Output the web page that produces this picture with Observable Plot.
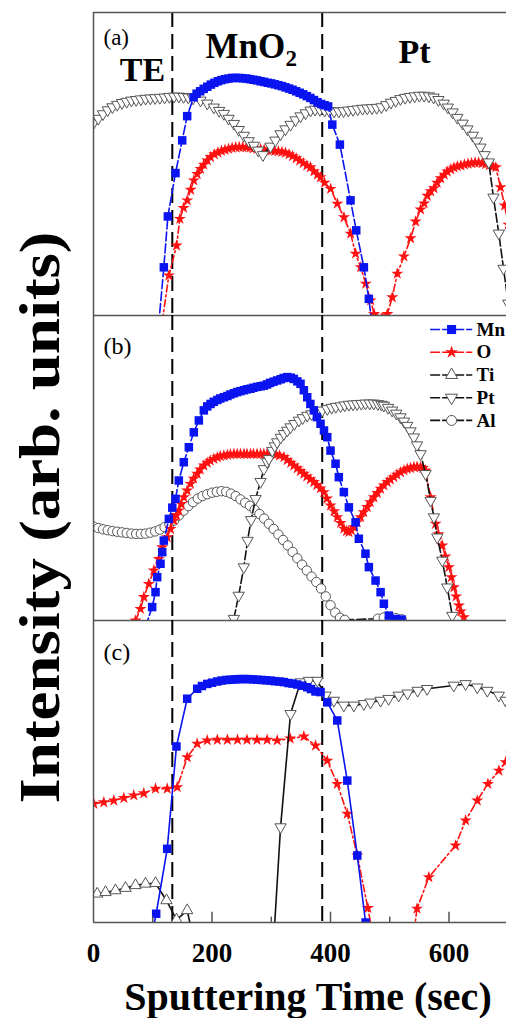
<!DOCTYPE html>
<html><head><meta charset="utf-8">
<script src="https://cdn.jsdelivr.net/npm/d3@7"></script>
<script src="https://cdn.jsdelivr.net/npm/@observablehq/plot@0.6"></script>
<style>
body{margin:0;background:#fff;}
#chart{width:506px;height:1018px;position:relative;overflow:hidden;background:#fff;}
#chart svg{display:block;overflow:visible;}
</style></head><body><div id="chart"></div>
<script>
// ---- data: [sputtering time (sec), intensity (arb., 0-100 per panel)] ----
const mnA = [[110,-3],[118.7,15.9],[125.5,32.7],[138.4,47],[149.7,57.8],[158.1,65.8],[169,72],[174,73.2],[180,74],[186,74.8],[192,75.5],[198,76.2],[204,76.8],[210,77.3],[216,77.7],[222,78],[228,78.2],[234,78.4],[240,78.4],[246,78.4],[252,78.3],[258,78.2],[264,78],[270,77.8],[276,77.6],[282,77.3],[288,77.1],[294,76.8],[300,76.6],[306,76.3],[312,76],[318,75.7],[324,75.3],[330,74.9],[336,74.5],[342,74],[348,73.5],[354,73],[360,72.4],[366,71.8],[372,71.1],[378,70.4],[384,69.8],[390,69.4],[396,69],[403,63],[415.8,56.4],[433.8,38],[443.4,28.1],[456.3,15.9],[464.7,5.5],[470,-3]];
const oA = [[116,-2],[127.2,13.2],[140.2,23.1],[145.7,31.9],[152,35.5],[158.1,38],[164,41.5],[169.3,44.6],[175,46.7],[180.6,48.4],[186,49.8],[192,51.2],[197.5,52.3],[204,53.2],[210,53.8],[216,54.3],[222,54.7],[228,55],[234,55.3],[240,55.5],[246,55.6],[252,55.6],[258,55.5],[264,55.4],[270,55.2],[276,55],[282,54.9],[288,54.7],[294,54.6],[300,54.4],[306,54.3],[312,54.2],[318,54],[324,53.7],[330,53.2],[336,52.6],[342,51.9],[348,51.1],[354,50.3],[360,49.5],[366,48.9],[372,47.6],[378,46.5],[383,45.6],[390,43.8],[400.2,41.8],[411.5,36.9],[422.7,32.4],[434,27],[442.3,20.4],[451,15.9],[459.4,10.5],[467.8,5],[473.5,0.5],[496,0.5],[504.2,6],[512.7,13.8],[523.9,19.5],[535.2,25.5],[543.6,31],[552,35],[558,37],[563.3,39.5],[569,41],[574.6,42],[580,43.8],[586,45.3],[592,46.5],[597,47.5],[603,48.2],[608.4,48.8],[614,49.2],[620,49.5],[626,49.8],[632,50.1],[638,50.3],[644,50.5],[650,50.5],[656,50.3],[662,50],[668,49.6],[674,49.2],[679,48.9],[687,42.3],[693.8,36.3],[700,30]];
const ptA = [[0,63.5],[8,65],[16,66.5],[24,67.8],[32,68.8],[40,69.6],[48,70.2],[56,70.6],[64,71],[72,71.2],[80,71.4],[88,71.6],[96,71.7],[104,71.8],[112,71.9],[120,72],[128,72.2],[136,72.3],[144,72.3],[152,72.2],[160,72],[168,71.7],[180.6,71],[192,70],[203,68.7],[212,67.6],[220,66.6],[228,65],[236.9,63.3],[245,61.3],[253.7,59.4],[262,57.6],[270.6,56.1],[278,54.5],[286,53],[298.8,55.8],[307,57.8],[315.7,59.9],[324,61.5],[332.5,63],[341,64.5],[349.4,65.8],[358,66.8],[366.3,67.7],[374,68],[382,67.9],[390,67.7],[398,67.5],[406,67.4],[414,67.4],[422,67.5],[430,67.7],[438,67.9],[446,68.1],[454,68.3],[462,68.4],[470,68.5],[478,68.6],[486,68.8],[494,69.5],[502,70.3],[510,70.9],[518,71.5],[526,71.9],[534,72.2],[542,72.4],[550,72.6],[558,72.6],[566,72.4],[574,72],[582,71.2],[591,70],[598,68.7],[606,67.1],[614,65.3],[623,63.4],[631,61.5],[640,59.4],[647,57.5],[653,55.5],[660,53],[667,50.6],[675,39],[684,27.1],[692,15.5],[700,4]];

const mnB = [[87.8,-2],[99,4.4],[104.7,9.3],[107.5,14.2],[113.1,18.6],[116,22.4],[118.7,26.2],[127.2,33.3],[133,37],[138.4,39.9],[144,45.9],[152.4,51.9],[160.9,56.8],[169.3,61.7],[177.8,65.6],[186.2,68.9],[192,70.2],[197.5,71],[203,71.7],[209,72.3],[214,72.8],[220,73.2],[226,73.6],[231,74.1],[237,74.5],[242.5,74.9],[248,75.2],[254,75.5],[259,75.8],[265,76],[270,76.3],[276,76.6],[282,76.8],[287.5,77],[293,77.4],[298,77.9],[304,78.3],[310,78.7],[316,79.1],[321,79.5],[327,79.8],[333,79.6],[338,79.2],[344,78.4],[349.4,77.6],[355,75.5],[360.7,73.2],[366,71],[371.9,68.9],[377,66.7],[383.2,64.5],[389,62.3],[394.5,60.1],[400,55.7],[408.5,51.4],[414,47],[422.5,42.1],[431,37.1],[442.3,32.2],[447.8,26.8],[459,21.9],[464.7,17.5],[476,13.1],[484.5,9.3],[490,5.5],[498.5,1.6],[510,0.5],[520,0.3]];
const oB = [[70.9,0],[79.3,3.8],[85,7.7],[93.3,12],[101.8,16.4],[110.2,20.2],[116,24],[124.4,27.3],[130,30],[135.6,32.8],[140,34.5],[144,36.1],[148,38.2],[152.5,40.4],[158,42.6],[163.7,44.8],[169,46.5],[175,48.1],[180,49.5],[186.2,50.8],[192,51.7],[197,52.4],[203.1,53],[209,53.5],[214,53.9],[220,54.1],[226,54.3],[231,54.5],[237,54.6],[242.5,54.6],[248,54.6],[254,54.6],[259,54.6],[265,54.6],[270,54.6],[276,54.6],[282,54.6],[287.5,54.6],[293,54.6],[298,54.6],[303,54.6],[308,54.4],[314,54.1],[321.4,53.6],[327,52.6],[333,51.7],[338.1,50.8],[344,49.9],[349,49],[355,48.1],[360,47.2],[366,46.3],[371.9,45.4],[377,44.4],[383,43.3],[388.8,42.1],[394,40],[400,37.7],[406,35.8],[411.4,33.9],[417,32],[422.6,30.1],[427,29.3],[431,29],[435,29.6],[439.4,30.6],[445,32.2],[450.7,33.9],[456,35.5],[462,37.2],[467,38.8],[473.2,40.4],[479,41.8],[484.5,43.2],[490,44.3],[495.8,45.4],[501,46.2],[507,47],[512,47.8],[518.2,48.6],[524,49.2],[529.5,49.7],[535,50],[540.7,50.3],[546,50.4],[552,50.3],[556,50],[560.4,49.2],[568.9,40.4],[577.3,31.7],[582,28.3],[588.6,24.6],[594,21],[599.8,17.5],[604,14.2],[608.2,10.9],[612,7.9],[616.7,4.9],[620,3],[625,1.1]];
const ptB = [[236.9,0.6],[245,8.2],[253.7,17.5],[260,26.2],[266,33],[273.5,39.9],[281.9,45.5],[287.5,49.7],[293,52],[296,53],[301.6,55.7],[306,57.2],[310,58.5],[316,60],[321.3,61.2],[327,62.3],[332.5,63.4],[339,64.5],[346.6,65.6],[353,66.4],[360.7,67.2],[368,67.7],[377.6,68.3],[386,68.9],[394.5,69.4],[402,69.8],[409,70.1],[417,70.3],[424,70.6],[431,70.8],[438,70.9],[445,71],[452,71.1],[459,71.2],[466,71.2],[473,71.2],[480,71],[486,70.8],[490,70.5],[497,69.8],[504,68.9],[511,67.9],[518,66.7],[524,65.3],[529.5,63.9],[535,62.1],[540.7,60.1],[546,57.5],[552,54.6],[560.4,48.1],[569,39.3],[574.5,33.9],[580.2,27.3],[588.6,19.7],[597,10.9],[605.5,1.6]];
const alB = [[0,30.8],[8,30.3],[16,29.9],[24,29.6],[32,29.3],[40,29.1],[48,28.9],[56,28.7],[64,28.5],[72,28.4],[80,28.4],[88,28.5],[96,28.8],[104,29.2],[112,29.8],[120,30.6],[128,31.6],[136,32.8],[144,34.4],[152,36],[160,37.5],[168,38.8],[176,40],[184,40.8],[192,41.4],[200,41.9],[208,42.2],[216,42.4],[224,42.2],[232,41.6],[240,40.8],[248,39.7],[256,38.6],[264,37.6],[272,36.3],[280,34.9],[288,33.4],[296,31.7],[304,30],[312,28.2],[320,26.4],[328,24.6],[336,22.5],[344,20.4],[352,18.3],[360,16.4],[368,14.4],[376,12.6],[384,10.5],[392,7.9],[400,5],[408,2.6],[416,0.9],[424,0.2],[480,0.6],[490,1],[500,1],[510,0.8],[520,0.4]];

const mnC = [[100.7,-2],[105.8,2.9],[124.4,24.4],[140,58.3],[158.1,74.1],[175,77.4],[183,78.3],[192,79],[200,79.4],[208.8,79.8],[216,80.1],[224,80.3],[231.3,80.4],[239,80.5],[246,80.6],[253.7,80.6],[261,80.6],[269,80.5],[276.3,80.4],[284,80.3],[291,80.2],[298.8,80.1],[306,79.9],[314,79.8],[321.2,79.6],[329,79.3],[336,79.1],[343.8,78.8],[352,78.4],[360.7,77.9],[367,77.3],[374.7,76.5],[383.2,76.3],[394.5,72.9],[411.4,66.9],[428.3,47],[445.2,22.2],[459.2,0],[462,-3]];
const oC = [[0.6,39.3],[17.4,39.8],[34.3,40.4],[51.2,41.2],[68,42.1],[84.9,42.8],[104.7,44.3],[124.4,44.3],[141.3,44.8],[158.2,54.7],[175,59.2],[192,60.3],[209,60.5],[226,60.5],[243,60.5],[259,60.5],[276,60.5],[293,60.5],[310,60.3],[332,60.9],[355,61.6],[374.7,58.6],[394.5,53.6],[411.4,45.9],[428.3,36],[445.2,22.2],[463,4.8],[470.4,-3],[541,-3],[546,4.6],[566,15],[611,25.5],[628,33.8],[647.7,40.4],[665.6,45.9],[684.1,50.3],[695.5,53.1],[705,56]];
const ptC = [[305,-3],[315.7,31.6],[332.5,69.1],[349.4,79.6],[363.4,80.1],[377.6,80.1],[391.6,75.2],[405.7,73.5],[422.5,71.9],[439.4,71.9],[456.3,72.4],[467.6,72.9],[484.5,73.5],[498,74.1],[515,75.2],[530,75.9],[547,76.8],[563,77.4],[608,78.5],[628,79],[647.7,77.9],[664.6,76.8],[684,75.2],[695.5,73.5],[705,71]];
const tiC = [[6.2,9.5],[20.3,10],[37.1,10.6],[54,11.4],[70.9,12.3],[87.8,12.8],[104.7,13],[123.2,7.3],[140.1,0.9],[158.1,4],[166,-3]];

const dividers = [133, 386];
const xTickLabels = [0, 200, 400, 600];
const xTicksMajor = [200, 400, 600];
const xTicksMinor = [100, 300, 500];
const legendNames = ["Mn", "O", "Ti", "Pt", "Al"];
const panelLabels = ["(a)", "(b)", "(c)"];
const regionLabels = ["TE", "MnO", "2", "Pt"];
const xTitle = "Sputtering Time (sec)";
const yTitle = "Intensity (arb. units)";

// ---- styles ----
const serif = "'Liberation Serif','Times New Roman',serif";
const W = 506, ML = 93;
const X_DOMAIN = [0, 697];
const STY = {
  Mn: {color: "#0a14f0", symbol: "square", fill: "#0a14f0", stroke: "none", r: 4.8, rotate: 0, dash: "9,3"},
  O:  {color: "#ff1010", symbol: "star", fill: "#ff1010", stroke: "none", r: 3.8, rotate: 0, dash: "7,3,2,3"},
  Ti: {color: "#111", symbol: "triangle", fill: "#fff", stroke: "#555", r: 4.2, rotate: 0, dash: "9,3"},
  Pt: {color: "#111", symbol: "triangle", fill: "#fff", stroke: "#555", r: 4.2, rotate: 180, dash: "9,3"},
  Al: {color: "#111", symbol: "circle", fill: "#fff", stroke: "#555", r: 4.7, rotate: 0, dash: "9,3"}
};
const fx = d => d[0], fy = d => d[1];

function seriesMarks(data, name, solid) {
  const s = STY[name];
  return [
    Plot.line(data, {x: fx, y: fy, stroke: s.color, strokeWidth: 1.6, strokeDasharray: solid ? null : s.dash, clip: true}),
    Plot.dot(data, {x: fx, y: fy, symbol: s.symbol, r: s.r, fill: s.fill, stroke: s.stroke, strokeWidth: 1, rotate: s.rotate, clip: true})
  ];
}
function frameMarks() {
  return [Plot.ruleX(dividers, {stroke: "#000", strokeWidth: 2, strokeDasharray: "15,7"})];
}
function borderMarks(top) {
  const m = [Plot.ruleX([0], {stroke: "#555", strokeWidth: 1.5}), Plot.ruleY([0], {stroke: "#555", strokeWidth: 1.5})];
  if (top) m.push(Plot.ruleY([100], {stroke: "#555", strokeWidth: 1.5}));
  return m;
}
function labelMark(text, dx, dy, size, weight, anchor) {
  return Plot.text([text], {frameAnchor: "top-left", dx, dy, text: d => d, fontSize: size, fontWeight: weight, fontFamily: serif, lineAnchor: "bottom", textAnchor: anchor || "start", fill: "#000"});
}
const base = {width: W, marginLeft: ML, marginRight: 0, x: {domain: X_DOMAIN, axis: null}, y: {domain: [0, 100], axis: null}, style: {fontFamily: serif, background: "transparent", overflow: "visible"}};

// Panel (a)
const pa = Plot.plot({...base, height: 315, marginTop: 12, marginBottom: 0, marks: [
  ...frameMarks(),
  ...seriesMarks(oA, "O"),
  ...seriesMarks(ptA, "Pt"),
  ...seriesMarks(mnA, "Mn"),
  labelMark(panelLabels[0], 10, 32, 23, "normal"),
  labelMark(regionLabels[0], 49, 68, 34, "bold", "middle"),
  labelMark(regionLabels[1], 112, 45, 35, "bold"),
  labelMark(regionLabels[2], 192, 53, 23, "bold"),
  labelMark(regionLabels[3], 305, 50, 34, "bold"),
  ...borderMarks(true)
]});

// Panel (b)
const legendY = (i) => 95.4 - i * 7.45;
const legendMarks = legendNames.map((n, i) => {
  const s = STY[n];
  return [
    Plot.ruleY([legendY(i)], {x1: 569, x2: 640, stroke: s.color, strokeWidth: 1.6, strokeDasharray: "10,2"}),
    Plot.dot([[604.3, legendY(i)]], {x: fx, y: fy, symbol: s.symbol, r: s.r + 0.3, fill: s.fill, stroke: s.stroke, strokeWidth: 1, rotate: s.rotate}),
    Plot.text([n], {x: 646.5, y: legendY(i), text: d => d, fontSize: 19, fontWeight: "bold", fontFamily: serif, textAnchor: "start", lineAnchor: "middle", fill: "#000"})
  ];
}).flat();
const pb = Plot.plot({...base, height: 305, marginTop: 0, marginBottom: 0, marks: [
  ...frameMarks(),
  ...seriesMarks(alB, "Al"),
  ...seriesMarks(oB, "O"),
  ...seriesMarks(ptB, "Pt"),
  ...seriesMarks(mnB, "Mn"),
  labelMark(panelLabels[1], 10, 38, 24, "normal"),
  ...legendMarks,
  Plot.text([yTitle], {frameAnchor: "top-left", dx: -53, dy: 202, text: d => d, rotate: -90, fontSize: 58, fontWeight: "bold", fontFamily: serif, textAnchor: "middle", lineAnchor: "middle", fill: "#000", className: "ytitle"}),
  ...borderMarks(false)
]});

// Panel (c)
const pc = Plot.plot({...base, height: 398, marginTop: 0, marginBottom: 96, marks: [
  ...frameMarks(),
  ...seriesMarks(tiC, "Ti", true),
  ...seriesMarks(oC, "O"),
  ...seriesMarks(ptC, "Pt", true),
  ...seriesMarks(mnC, "Mn", true),
  labelMark(panelLabels[2], 10, 39, 24, "normal"),
  Plot.ruleX(xTicksMajor, {y1: 0, y2: 3.4, stroke: "#555", strokeWidth: 1.5}),
  Plot.ruleX(xTicksMinor, {y1: 0, y2: 1.8, stroke: "#555", strokeWidth: 1.5}),
  Plot.axisX(xTickLabels, {tickSize: 0, tickPadding: 20, fontSize: 27, fontWeight: "bold", fontFamily: serif, label: null, tickFormat: d => String(d), fill: "#000"}),
  Plot.text([xTitle], {frameAnchor: "bottom", dx: 8, dy: 87, text: d => d, fontSize: 40, fontWeight: "bold", fontFamily: serif, textAnchor: "middle", lineAnchor: "bottom", fill: "#000"}),
  ...borderMarks(false)
]});

// stretch the y title to the reference length (slightly condensed face)
pb.querySelectorAll("text").forEach(t => {
  if (t.textContent === yTitle) { t.setAttribute("textLength", "572"); t.setAttribute("lengthAdjust", "spacingAndGlyphs"); }
});

const root = document.getElementById("chart");
root.append(pa, pb, pc);
</script></body></html>
